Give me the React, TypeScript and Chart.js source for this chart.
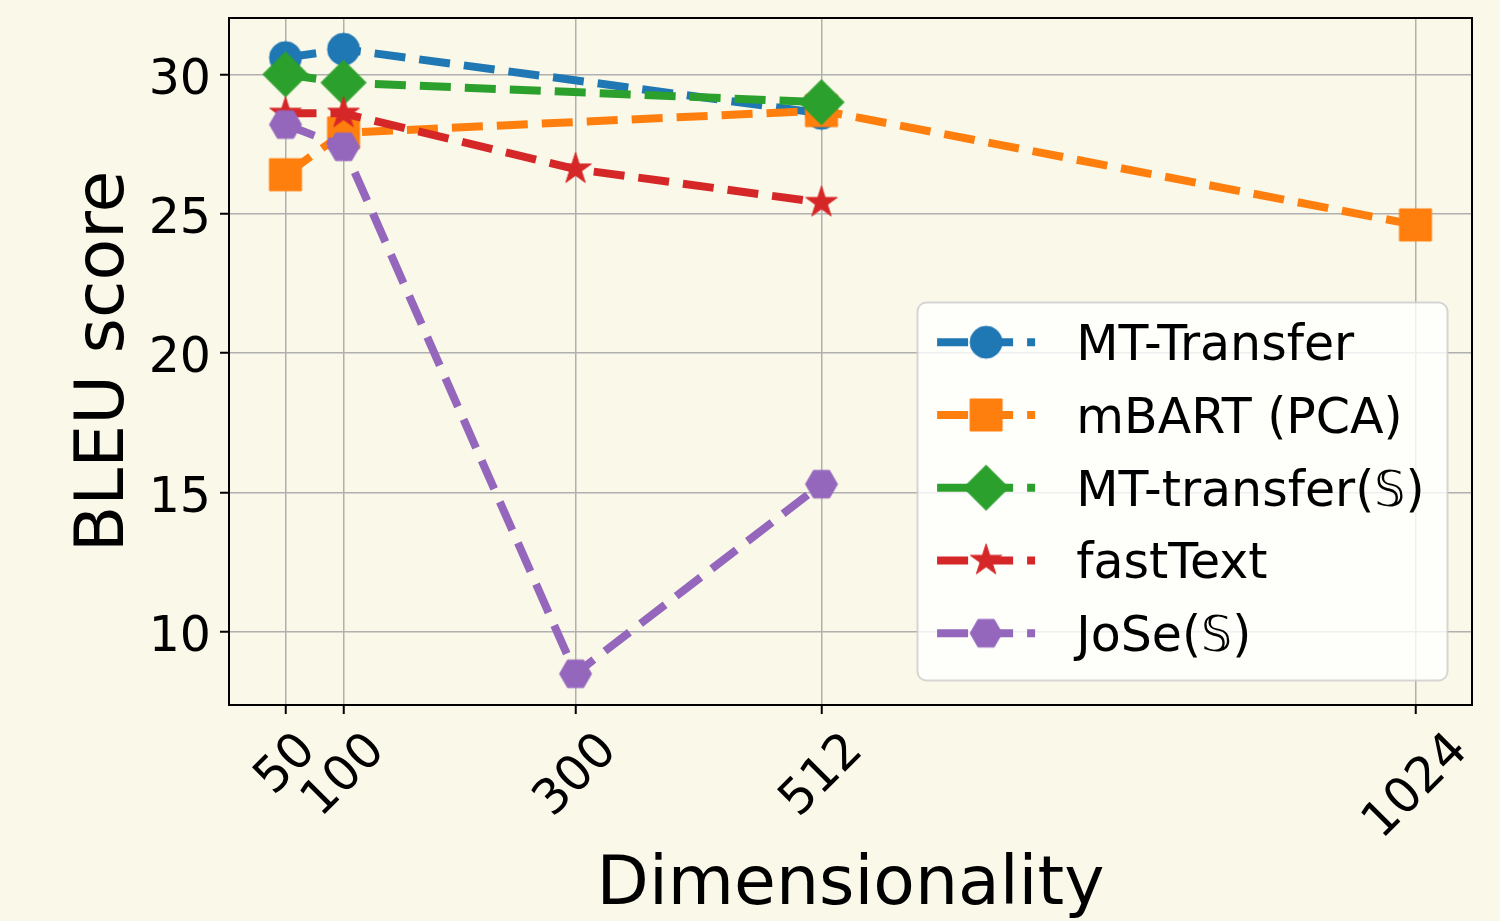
import React, { useEffect, useRef } from 'react';
import { Chart, registerables } from 'chart.js';

Chart.register(...registerables);

// ---------------- data ----------------
const dims = [50, 100, 300, 512, 1024];
const dimLabels = ['50', '100', '300', '512', '1024'];
const seriesNames = ['MT-Transfer', 'mBART (PCA)', 'MT-transfer(𝕊)', 'fastText', 'JoSe(𝕊)'];
const mtTransfer = [30.6, 30.9, null, 28.6, null];
const mbartPca = [26.4, 27.9, null, 28.7, 24.6];
const mtTransferS = [30.0, 29.7, null, 29.0, null];
const fastText = [28.6, 28.6, 26.6, 25.4, null];
const joseS = [28.2, 27.4, 8.5, 15.3, null];
const yTicks = [10, 15, 20, 25, 30];
const yTickLabels = ['10', '15', '20', '25', '30'];

// ---------------- styles ----------------
const seriesValues = [mtTransfer, mbartPca, mtTransferS, fastText, joseS];
const colors = ['#1f77b4', '#ff7f0e', '#2ca02c', '#d62728', '#9467bd'];
const markerKinds = ['circle', 'square', 'diamond', 'star', 'hexagon'];
const BG = '#faf8e8';
const FAMILY = '"DejaVu Sans", "Noto Sans", sans-serif';
const TICK_FS = 49;
const TITLE_FS = 68;
const LINE_W = 8;
const DASH = [31, 14];

function makeMarker(kind: string, color: string): HTMLCanvasElement {
  const c = document.createElement('canvas');
  c.width = 52;
  c.height = 52;
  const g = c.getContext('2d') as CanvasRenderingContext2D;
  g.translate(26, 26);
  g.beginPath();
  if (kind === 'circle') {
    g.arc(0, 0, 16, 0, Math.PI * 2);
  } else if (kind === 'square') {
    g.rect(-16, -16, 32, 32);
  } else if (kind === 'diamond') {
    const r = 22.6;
    g.moveTo(0, -r);
    g.lineTo(r, 0);
    g.lineTo(0, r);
    g.lineTo(-r, 0);
    g.closePath();
  } else if (kind === 'star') {
    for (let i = 0; i < 10; i++) {
      const r = i % 2 === 0 ? 16.5 : 16.5 * 0.381966;
      const a = -Math.PI / 2 + (i * Math.PI) / 5;
      const px = r * Math.cos(a);
      const py = r * Math.sin(a);
      if (i === 0) g.moveTo(px, py);
      else g.lineTo(px, py);
    }
    g.closePath();
  } else {
    for (let i = 0; i < 6; i++) {
      const a = (i * Math.PI) / 3;
      const px = 16 * Math.cos(a);
      const py = 16 * Math.sin(a);
      if (i === 0) g.moveTo(px, py);
      else g.lineTo(px, py);
    }
    g.closePath();
  }
  g.fillStyle = color;
  g.fill();
  g.strokeStyle = color;
  g.lineWidth = 1;
  g.stroke();
  return c;
}

export default function App() {
  const ref = useRef<HTMLCanvasElement | null>(null);

  useEffect(() => {
    document.body.style.margin = '0';
    document.body.style.background = BG;
    const canvas = ref.current;
    if (!canvas) return;

    const markerCanvases = markerKinds.map((k, i) => makeMarker(k, colors[i]));

    const allY = seriesValues.flat().filter((v) => v !== null) as number[];
    const yLo = Math.min(...allY);
    const yHi = Math.max(...allY);
    const yMargin = (yHi - yLo) * 0.05;
    const xLo = Math.min(...dims);
    const xHi = Math.max(...dims);
    const xMargin = (xHi - xLo) * 0.05;

    const datasets = seriesValues.map((vals, i) => ({
      label: seriesNames[i],
      data: dims
        .map((d, j) => ({ x: d, y: vals[j] }))
        .filter((p) => p.y !== null),
      borderColor: colors[i],
      backgroundColor: colors[i],
      borderWidth: LINE_W,
      borderDash: DASH,
      borderCapStyle: 'butt',
      borderJoinStyle: 'round',
      tension: 0,
      fill: false,
      pointStyle: markerCanvases[i],
      pointRadius: 16,
      pointHoverRadius: 16,
      order: seriesValues.length - i,
    }));

    const bgPlugin = {
      id: 'bgFill',
      beforeDraw(chart: any) {
        const ctx = chart.ctx;
        ctx.save();
        ctx.fillStyle = BG;
        ctx.fillRect(0, 0, chart.width, chart.height);
        ctx.restore();
      },
    };

    const framePlugin = {
      id: 'frame',
      afterDatasetsDraw(chart: any) {
        const { ctx, chartArea: a } = chart;
        ctx.save();
        ctx.strokeStyle = '#000';
        ctx.lineWidth = 2;
        ctx.strokeRect(a.left, a.top, a.right - a.left, a.bottom - a.top);
        ctx.restore();
      },
    };

    const tickLabelPlugin = {
      id: 'tickLabels',
      afterDraw(chart: any) {
        const { ctx, chartArea: a } = chart;
        const xs = chart.scales.x;
        const ys = chart.scales.y;
        ctx.save();
        ctx.font = `${TICK_FS}px ${FAMILY}`;
        ctx.fillStyle = '#000';
        // x tick labels, rotated 45 degrees, centred under their tick
        dims.forEach((v, i) => {
          const label = dimLabels[i];
          const px = xs.getPixelForValue(v);
          const w = ctx.measureText(label).width;
          const h = TICK_FS * 1.164;
          const D = (w + h) / Math.SQRT2;
          const top = a.bottom + 15;
          ctx.save();
          ctx.translate(px - 2, top + D / 2);
          ctx.rotate(-Math.PI / 4);
          ctx.textAlign = 'center';
          ctx.textBaseline = 'alphabetic';
          ctx.fillText(label, 0, ((0.928 - 0.236) / 2) * TICK_FS);
          ctx.restore();
        });
        // y tick labels
        ctx.textAlign = 'right';
        ctx.textBaseline = 'alphabetic';
        yTicks.forEach((v, i) => {
          const py = ys.getPixelForValue(v);
          ctx.fillText(yTickLabels[i], a.left - 18, py + 0.3645 * TICK_FS + 1.5);
        });
        ctx.restore();
      },
    };

    const legendPlugin = {
      id: 'mplLegend',
      afterDraw(chart: any) {
        const { ctx, chartArea: a } = chart;
        const fs = TICK_FS;
        const pad = 0.4 * fs;
        const handleLen = 2 * fs;
        const textPad = 0.8 * fs;
        const boxW = 530;
        const boxH = 378;
        const right = a.right - 0.5 * fs;
        const bottom = a.bottom - 0.5 * fs;
        const left = right - boxW;
        const top = bottom - boxH;
        ctx.save();
        ctx.beginPath();
        ctx.roundRect(left, top, boxW, boxH, 9);
        ctx.fillStyle = 'rgba(255,255,255,0.8)';
        ctx.fill();
        ctx.strokeStyle = 'rgba(204,204,204,0.8)';
        ctx.lineWidth = 2;
        ctx.stroke();
        ctx.font = `${fs}px ${FAMILY}`;
        ctx.textBaseline = 'alphabetic';
        ctx.textAlign = 'left';
        chart.data.datasets.forEach((ds: any, i: number) => {
          const cy = top + 39.7 + i * 72.75;
          const x0 = left + pad;
          ctx.save();
          ctx.strokeStyle = ds.borderColor;
          ctx.lineWidth = LINE_W;
          ctx.lineCap = 'butt';
          ctx.setLineDash(DASH);
          ctx.beginPath();
          ctx.moveTo(x0, cy);
          ctx.lineTo(x0 + handleLen, cy);
          ctx.stroke();
          ctx.restore();
          const m = ds.pointStyle as HTMLCanvasElement;
          ctx.drawImage(m, x0 + handleLen / 2 - m.width / 2, cy - m.height / 2);
          ctx.fillStyle = '#000';
          ctx.fillText(ds.label, x0 + handleLen + textPad + 2, cy + 0.3645 * fs);
        });
        ctx.restore();
      },
    };

    const gridCommon = {
      color: '#b0b0b0',
      lineWidth: 1.5,
      tickColor: '#000',
      tickWidth: 2,
      tickLength: 9,
    };

    const chart = new Chart(canvas, {
      type: 'line',
      data: { datasets: datasets as any },
      options: {
        animation: false,
        responsive: false,
        maintainAspectRatio: false,
        events: [],
        layout: { autoPadding: false, padding: { top: 18, right: 28, bottom: 0, left: 0 } },
        plugins: {
          legend: { display: false },
          tooltip: { enabled: false },
        },
        scales: {
          x: {
            type: 'linear',
            min: xLo - xMargin,
            max: xHi + xMargin,
            afterBuildTicks: (s: any) => {
              s.ticks = dims.map((v) => ({ value: v }));
            },
            afterFit: (s: any) => {
              s.height = 216;
            },
            ticks: { display: false },
            grid: gridCommon,
            border: { display: false },
            title: {
              display: true,
              text: 'Dimensionality',
              color: '#000',
              font: { family: FAMILY, size: TITLE_FS, lineHeight: 1.03 },
              padding: 0,
            },
          },
          y: {
            type: 'linear',
            min: yLo - yMargin,
            max: yHi + yMargin,
            afterBuildTicks: (s: any) => {
              s.ticks = yTicks.map((v) => ({ value: v }));
            },
            afterFit: (s: any) => {
              s.width = 229;
            },
            ticks: { display: false },
            grid: gridCommon,
            border: { display: false },
            title: {
              display: true,
              text: 'BLEU score',
              color: '#000',
              font: { family: FAMILY, size: TITLE_FS, lineHeight: 1.2 },
              padding: { top: 65, bottom: 0 },
            },
          },
        },
      } as any,
      plugins: [bgPlugin, framePlugin, tickLabelPlugin, legendPlugin],
    });

    return () => {
      chart.destroy();
    };
  }, []);

  return (
    <div style={{ width: 1500, height: 921 }}>
      <canvas ref={ref} width={1500} height={921} style={{ display: 'block' }} />
    </div>
  );
}
